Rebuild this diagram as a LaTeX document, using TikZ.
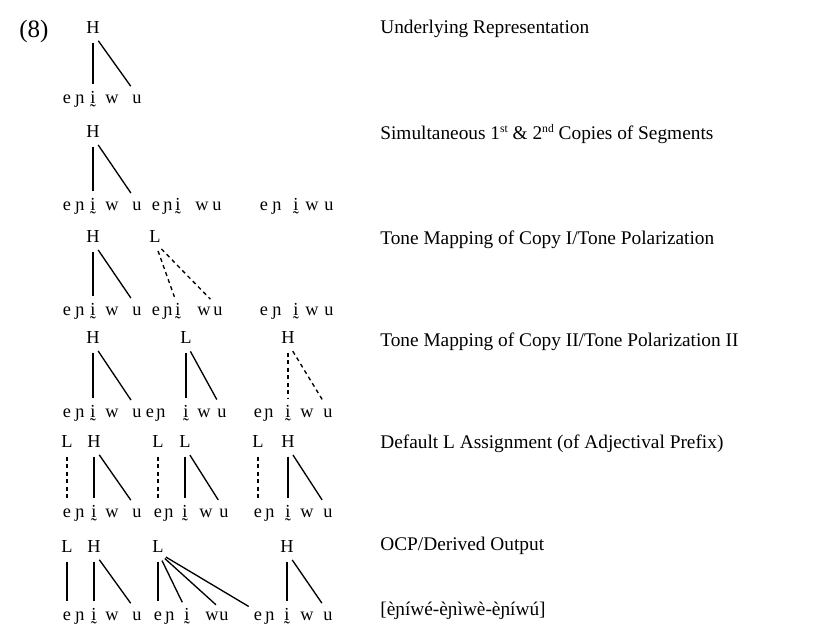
\documentclass[tikz,border=0pt]{standalone}
\usepackage{fontspec}
\setmainfont{Liberation Serif}
\newcommand{\itil}{ḭ}
\newcommand{\sups}[1]{\raisebox{0.75ex}{\fontsize{7}{8}\selectfont #1}}
\tikzset{
  tone/.style={anchor=base,inner sep=0pt,font=\fontsize{11}{13}\selectfont},
  seg/.style={anchor=base,inner sep=0pt,text height=1ex,text depth=0pt,
              font=\fontsize{11}{13}\selectfont},
  stage/.style={anchor=base west,inner sep=0pt,font=\fontsize{11.6}{14}\selectfont},
  assoc/.style={line width=0.8pt,shorten <=5.5pt,shorten >=6.5pt},
  newassoc/.style={assoc,dash pattern=on 2.4pt off 2.1pt}
}
\begin{document}
\begin{tikzpicture}[x=0.6pt,y=-0.6pt]
  \useasboundingbox (0,0) rectangle (827,640);
  \node[stage,font=\fontsize{15}{17}\selectfont] (exnum) at (19,37) {(8)};
  % segmental tiers
  \foreach \r/\y/\c/\xe/\xn/\xi/\xw/\xu in {
    1/103/a/67/80/93/112/137,
    2/210/a/67/80/93/112/137, 2/210/b/156/168/178/202/217, 2/210/c/264/277/296/312/329,
    3/315/a/67/80/93/112/137, 3/315/b/156/168/178/204/218, 3/315/c/264/277/296/312/329,
    4/417/a/67/80/93/112/137, 4/417/b/150/161/186/204/222, 4/417/c/258/269/288/307/328,
    5/517/a/67/80/94/112/137, 5/517/b/158/169/185/206/224, 5/517/c/258/270/288/307/328,
    6/620/a/67/80/94/112/137, 6/620/b/158/170/187/212/224, 6/620/c/258/270/287/307/328}{
    \node[seg] (r\r\c-e) at (\xe,\y) {e};
    \node[seg] (r\r\c-n) at (\xn,\y) {ɲ};
    \node[seg] (r\r\c-i) at (\xi,\y) {\itil};
    \node[seg] (r\r\c-w) at (\xw,\y) {w};
    \node[seg] (r\r\c-u) at (\xu,\y) {u};
  }
  % tonal tiers
  \node[tone] (r1ta) at (93,33) {H};
  \node[tone] (r2ta) at (93,137) {H};
  \node[tone] (r3ta) at (93,242) {H};
  \node[tone] (r3tb) at (155,242) {L};
  \node[tone] (r4ta) at (93,343) {H};
  \node[tone] (r4tb) at (186,343) {L};
  \node[tone] (r4tc) at (288,343) {H};
  \node[tone] (r5pa) at (67,447) {L};
  \node[tone] (r5ta) at (94,447) {H};
  \node[tone] (r5pb) at (158,447) {L};
  \node[tone] (r5tb) at (185,447) {L};
  \node[tone] (r5pc) at (258,447) {L};
  \node[tone] (r5tc) at (288,447) {H};
  \node[tone] (r6pa) at (67,552) {L};
  \node[tone] (r6ta) at (94,552) {H};
  \node[tone] (r6pb) at (158,552) {L};
  \node[tone] (r6tc) at (287,552) {H};
  % association lines
  \draw[assoc] (r1ta.south) -- (r1a-i.north);
  \draw[assoc] (r1ta.south) -- (r1a-u.north);
  \draw[assoc] (r2ta.south) -- (r2a-i.north);
  \draw[assoc] (r2ta.south) -- (r2a-u.north);
  \draw[assoc] (r3ta.south) -- (r3a-i.north);
  \draw[assoc] (r3ta.south) -- (r3a-u.north);
  \draw[newassoc] (r3tb.south) -- (r3b-i.north);
  \draw[newassoc] (r3tb.south) -- (r3b-u.north);
  \draw[assoc] (r4ta.south) -- (r4a-i.north);
  \draw[assoc] (r4ta.south) -- (r4a-u.north);
  \draw[assoc] (r4tb.south) -- (r4b-i.north);
  \draw[assoc] (r4tb.south) -- (r4b-u.north);
  \draw[newassoc] (r4tc.south) -- (r4c-i.north);
  \draw[newassoc] (r4tc.south) -- (r4c-u.north);
  \draw[newassoc] (r5pa.south) -- (r5a-e.north);
  \draw[newassoc] (r5pb.south) -- (r5b-e.north);
  \draw[newassoc] (r5pc.south) -- (r5c-e.north);
  \draw[assoc] (r5ta.south) -- (r5a-i.north);
  \draw[assoc] (r5ta.south) -- (r5a-u.north);
  \draw[assoc] (r5tb.south) -- (r5b-i.north);
  \draw[assoc] (r5tb.south) -- (r5b-u.north);
  \draw[assoc] (r5tc.south) -- (r5c-i.north);
  \draw[assoc] (r5tc.south) -- (r5c-u.north);
  \draw[assoc] (r6pa.south) -- (r6a-e.north);
  \draw[assoc] (r6ta.south) -- (r6a-i.north);
  \draw[assoc] (r6ta.south) -- (r6a-u.north);
  \draw[assoc] (r6pb.south) -- (r6b-e.north);
  \draw[assoc] (r6pb.south) -- (r6b-i.north);
  \draw[assoc] (r6pb.south) -- (r6b-u.north);
  \draw[assoc] (r6pb.south) -- (r6c-e.north);
  \draw[assoc] (r6tc.south) -- (r6c-i.north);
  \draw[assoc] (r6tc.south) -- (r6c-u.north);
  % derivation stages
  \node[stage] (st1) at (380,33) {Underlying Representation};
  \node[stage] (st2) at (380,139) {Simultaneous 1\sups{st} \& 2\sups{nd} Copies of Segments};
  \node[stage] (st3) at (380,244) {Tone Mapping of Copy I/Tone Polarization};
  \node[stage] (st4) at (380,346) {Tone Mapping of Copy II/Tone Polarization II};
  \node[stage] (st5) at (380,448) {Default L Assignment (of Adjectival Prefix)};
  \node[stage] (st6) at (380,550) {OCP/Derived Output};
  \node[stage] (out) at (380,615) {[èɲíwé-èɲìwè-èɲíwú]};
\end{tikzpicture}
\end{document}
